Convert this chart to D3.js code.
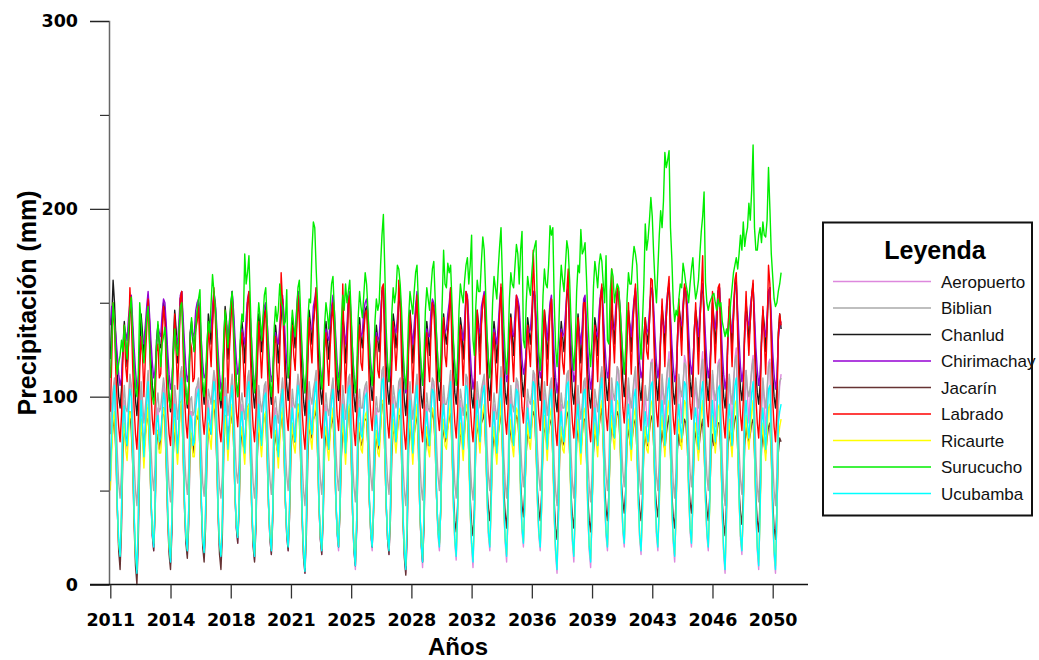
<!DOCTYPE html>
<html>
<head>
<meta charset="utf-8">
<script src="https://cdn.jsdelivr.net/npm/d3@7/dist/d3.min.js"></script>
<style>
  html, body { margin: 0; padding: 0; background: #fff; }
  svg { display: block; }
</style>
</head>
<body>
<svg id="chart" width="1039" height="660"></svg>
<script>
// Precipitación mensual 2011-2050 por estación (mm)

const stationNames = ['Aeropuerto', 'Biblian', 'Chanlud', 'Chirimachay', 'Jacarín', 'Labrado', 'Ricaurte', 'Surucucho', 'Ucubamba'];
const stationColors = ['#dd88dd', '#aaaaaa', '#1a1a1a', '#9400d3', '#663333', '#ff0000', '#ffff00', '#00ee00', '#00ffff'];

const xTickMonths = [0, 43, 86, 129, 172, 215, 258, 301, 344, 387, 430, 473];
const xTickLabels = ['2011', '2014', '2018', '2021', '2025', '2028', '2032', '2036', '2039', '2043', '2046', '2050'];
const yTickMajor = [0, 100, 200, 300];
const yTickMinor = [50, 150, 250];

const aeropuerto = [
  52, 78, 100, 108, 80, 40, 20, 12, 38, 86, 98, 82,
  72, 90, 110, 104, 74, 36, 16, 5, 34, 82, 102, 88,
  66, 84, 98, 112, 84, 46, 26, 18, 42, 88, 94, 80,
  78, 92, 106, 100, 70, 38, 20, 11, 36, 86, 100, 86,
  70, 86, 110, 114, 78, 42, 24, 16, 40, 92, 92, 78,
  76, 96, 104, 108, 82, 44, 22, 15, 38, 80, 98, 90,
  82, 98, 112, 106, 76, 38, 20, 13, 34, 84, 104, 92,
  72, 88, 102, 110, 86, 48, 30, 22, 44, 88, 96, 84,
  70, 92, 108, 112, 80, 40, 22, 13, 36, 82, 100, 88,
  76, 90, 104, 106, 78, 42, 24, 16, 40, 90, 94, 82,
  70, 86, 100, 108, 82, 44, 26, 18, 42, 86, 98, 86,
  78, 94, 110, 104, 74, 36, 16, 6, 34, 84, 102, 90,
  82, 96, 106, 112, 80, 42, 24, 16, 40, 88, 96, 84,
  74, 90, 102, 108, 84, 46, 26, 18, 42, 82, 100, 88,
  72, 88, 108, 110, 78, 38, 18, 8, 36, 90, 98, 84,
  80, 94, 104, 106, 82, 44, 26, 18, 42, 86, 94, 82,
  76, 92, 112, 114, 80, 42, 24, 16, 40, 84, 100, 90,
  78, 90, 106, 108, 76, 36, 16, 6, 34, 88, 102, 88,
  72, 88, 102, 110, 82, 40, 20, 9, 38, 86, 96, 84,
  76, 94, 108, 106, 84, 46, 26, 18, 42, 90, 100, 86,
  80, 92, 104, 112, 80, 42, 22, 13, 38, 84, 98, 88,
  74, 90, 110, 108, 78, 38, 20, 9, 36, 88, 102, 90,
  78, 96, 106, 110, 84, 46, 26, 18, 44, 86, 96, 84,
  72, 88, 102, 114, 80, 40, 22, 12, 38, 90, 100, 86,
  76, 92, 108, 106, 86, 48, 28, 20, 44, 84, 98, 88,
  80, 94, 112, 110, 82, 44, 26, 18, 42, 88, 102, 90,
  74, 90, 104, 108, 76, 36, 16, 6, 36, 86, 96, 84,
  78, 92, 110, 112, 80, 42, 22, 12, 40, 90, 100, 86,
  72, 88, 106, 108, 78, 38, 18, 9, 38, 84, 98, 88,
  76, 94, 108, 114, 84, 44, 26, 18, 42, 88, 104, 92,
  82, 98, 116, 112, 88, 48, 28, 20, 44, 92, 106, 94,
  78, 94, 108, 114, 86, 46, 24, 16, 42, 90, 102, 90,
  84, 100, 118, 120, 88, 48, 26, 18, 44, 94, 108, 96,
  82, 102, 116, 124, 84, 42, 22, 12, 40, 92, 110, 98,
  86, 104, 122, 118, 90, 50, 28, 20, 46, 96, 108, 96,
  80, 100, 116, 124, 88, 46, 26, 18, 44, 92, 112, 100,
  84, 98, 118, 120, 82, 38, 16, 6, 38, 94, 110, 98,
  82, 104, 120, 126, 86, 46, 24, 16, 42, 96, 114, 100,
  86, 102, 116, 122, 84, 40, 18, 8, 40, 92, 108, 96,
  80, 100, 118, 120, 82, 38, 16, 6, 38, 94, 106, 112
];

const biblian = [
  80, 96, 104, 110, 94, 70, 54, 46, 60, 94, 106, 94,
  92, 100, 112, 106, 88, 64, 50, 42, 58, 90, 108, 98,
  86, 94, 104, 114, 98, 74, 58, 50, 64, 96, 102, 92,
  94, 102, 110, 104, 86, 66, 52, 44, 60, 92, 106, 98,
  88, 96, 112, 116, 94, 70, 56, 48, 62, 98, 100, 90,
  92, 104, 106, 110, 96, 72, 54, 47, 60, 88, 104, 100,
  96, 106, 114, 108, 90, 66, 52, 46, 58, 92, 110, 102,
  90, 98, 104, 112, 100, 76, 60, 54, 66, 96, 102, 94,
  88, 100, 110, 114, 94, 70, 54, 46, 60, 90, 106, 98,
  92, 98, 106, 108, 92, 70, 56, 48, 62, 96, 100, 92,
  86, 96, 102, 110, 96, 72, 58, 50, 64, 92, 104, 96,
  94, 102, 112, 106, 88, 64, 50, 42, 58, 90, 108, 100,
  96, 104, 108, 114, 94, 70, 56, 48, 62, 94, 102, 94,
  90, 98, 104, 110, 98, 74, 58, 50, 64, 90, 106, 98,
  88, 96, 110, 112, 92, 66, 52, 44, 60, 96, 104, 94,
  94, 102, 106, 108, 96, 72, 58, 50, 64, 92, 100, 92,
  92, 100, 114, 116, 94, 70, 56, 48, 62, 90, 106, 100,
  94, 98, 108, 110, 90, 64, 50, 42, 58, 94, 108, 98,
  88, 96, 104, 112, 96, 68, 52, 45, 60, 92, 102, 94,
  92, 102, 110, 108, 98, 74, 58, 50, 64, 96, 106, 96,
  96, 100, 106, 114, 94, 70, 54, 46, 60, 90, 104, 98,
  90, 98, 112, 110, 92, 66, 52, 45, 58, 94, 108, 100,
  94, 104, 108, 112, 98, 74, 58, 50, 66, 92, 102, 94,
  88, 96, 104, 116, 94, 68, 54, 46, 60, 96, 106, 96,
  92, 100, 110, 108, 100, 76, 60, 52, 66, 90, 104, 98,
  96, 102, 114, 112, 96, 72, 58, 50, 64, 94, 108, 100,
  90, 98, 106, 110, 90, 64, 50, 42, 58, 92, 102, 94,
  94, 100, 112, 114, 94, 70, 54, 46, 62, 96, 106, 96,
  88, 96, 108, 110, 92, 66, 52, 44, 60, 90, 104, 98,
  92, 102, 110, 116, 98, 72, 58, 50, 64, 94, 110, 102,
  98, 106, 116, 114, 100, 76, 60, 52, 66, 98, 110, 100,
  94, 102, 110, 116, 98, 72, 56, 48, 64, 96, 106, 98,
  98, 106, 118, 118, 100, 76, 58, 50, 66, 98, 112, 102,
  96, 108, 116, 120, 96, 70, 54, 46, 62, 96, 112, 104,
  100, 108, 118, 116, 102, 78, 60, 52, 68, 100, 110, 102,
  94, 104, 114, 120, 100, 74, 58, 50, 66, 96, 114, 104,
  98, 104, 116, 118, 94, 66, 50, 42, 60, 98, 112, 102,
  96, 108, 118, 122, 98, 72, 56, 48, 64, 100, 114, 104,
  100, 106, 114, 120, 96, 68, 52, 44, 62, 96, 110, 100,
  94, 104, 116, 118, 94, 66, 50, 42, 60, 98, 108, 110
];

const chanlud = [
  120, 140, 162, 150, 130, 112, 100, 94, 104, 126, 140, 130,
  116, 128, 144, 148, 134, 114, 98, 90, 102, 124, 144, 134,
  122, 134, 142, 154, 140, 120, 106, 98, 108, 130, 138, 128,
  126, 136, 150, 146, 132, 112, 100, 92, 104, 128, 146, 136,
  118, 130, 152, 156, 136, 116, 102, 94, 106, 134, 140, 130,
  124, 138, 144, 150, 138, 118, 104, 96, 104, 122, 144, 138,
  128, 140, 154, 148, 132, 112, 100, 94, 102, 126, 148, 140,
  120, 132, 146, 156, 142, 122, 108, 100, 110, 130, 140, 132,
  118, 134, 150, 154, 136, 116, 102, 94, 104, 124, 144, 136,
  124, 132, 144, 148, 134, 116, 104, 96, 106, 130, 138, 130,
  118, 130, 142, 152, 138, 118, 106, 98, 108, 128, 142, 134,
  126, 138, 156, 148, 130, 110, 98, 90, 102, 124, 146, 138,
  128, 140, 148, 156, 136, 116, 104, 96, 106, 130, 140, 132,
  120, 132, 144, 150, 140, 120, 106, 98, 108, 126, 144, 136,
  118, 130, 150, 154, 134, 112, 100, 92, 104, 132, 142, 132,
  126, 138, 146, 148, 138, 118, 106, 98, 108, 128, 138, 130,
  124, 136, 156, 158, 136, 116, 104, 96, 106, 124, 144, 138,
  126, 134, 150, 152, 132, 110, 98, 90, 102, 130, 146, 136,
  118, 130, 144, 154, 138, 114, 100, 94, 104, 128, 140, 132,
  122, 138, 150, 148, 140, 120, 106, 98, 108, 132, 144, 134,
  128, 136, 146, 156, 136, 116, 102, 96, 106, 126, 142, 136,
  120, 132, 154, 152, 134, 112, 100, 94, 104, 130, 146, 138,
  124, 140, 150, 154, 140, 120, 106, 98, 110, 128, 140, 132,
  118, 130, 146, 158, 136, 116, 102, 96, 106, 132, 144, 134,
  122, 136, 152, 150, 142, 122, 108, 100, 110, 126, 142, 136,
  128, 138, 156, 154, 138, 118, 106, 98, 108, 130, 146, 138,
  120, 132, 148, 152, 132, 110, 98, 92, 104, 128, 140, 132,
  124, 136, 154, 156, 136, 116, 102, 96, 106, 132, 144, 134,
  118, 130, 150, 152, 134, 112, 100, 94, 104, 126, 142, 136,
  122, 138, 152, 158, 140, 118, 106, 98, 108, 130, 148, 140,
  128, 142, 156, 154, 142, 122, 108, 100, 110, 134, 146, 138,
  124, 138, 150, 156, 140, 118, 104, 98, 108, 132, 142, 134,
  128, 140, 156, 158, 142, 120, 106, 98, 110, 134, 148, 140,
  126, 142, 154, 160, 138, 116, 102, 96, 106, 132, 148, 142,
  130, 144, 158, 156, 144, 124, 108, 100, 112, 136, 146, 140,
  124, 140, 154, 160, 142, 120, 106, 98, 110, 132, 150, 142,
  128, 138, 156, 158, 136, 112, 100, 94, 104, 134, 148, 140,
  126, 142, 158, 162, 140, 118, 104, 98, 108, 136, 150, 142,
  130, 140, 154, 160, 138, 114, 102, 96, 106, 132, 146, 138,
  124, 138, 156, 158, 136, 112, 100, 94, 104, 134, 144, 136
];

const chirimachay = [
  138, 148, 146, 140, 132, 122, 112, 106, 110, 124, 136, 134,
  130, 142, 150, 154, 140, 126, 114, 104, 108, 120, 132, 130,
  128, 138, 148, 156, 144, 130, 118, 110, 114, 126, 138, 134,
  132, 144, 152, 150, 138, 124, 112, 104, 108, 122, 134, 132,
  128, 140, 154, 156, 142, 128, 116, 108, 112, 128, 138, 132,
  134, 146, 150, 152, 144, 130, 118, 110, 112, 120, 134, 136,
  136, 148, 156, 150, 138, 124, 112, 104, 108, 124, 140, 138,
  130, 140, 148, 156, 146, 132, 120, 112, 116, 128, 136, 132,
  128, 142, 152, 156, 142, 128, 114, 106, 110, 122, 138, 134,
  132, 140, 148, 150, 140, 128, 116, 108, 112, 128, 134, 130,
  128, 138, 146, 154, 144, 130, 118, 110, 114, 124, 136, 132,
  134, 146, 156, 150, 136, 122, 110, 102, 108, 122, 140, 136,
  136, 148, 152, 158, 142, 128, 116, 108, 112, 126, 136, 132,
  130, 140, 148, 154, 146, 132, 118, 110, 114, 122, 138, 134,
  128, 138, 152, 156, 140, 124, 112, 104, 110, 128, 138, 132,
  134, 146, 150, 152, 144, 130, 118, 110, 114, 126, 134, 130,
  132, 144, 156, 158, 142, 128, 116, 108, 112, 122, 138, 136,
  134, 142, 152, 154, 138, 122, 110, 102, 108, 126, 140, 134,
  128, 138, 148, 156, 144, 126, 114, 106, 110, 124, 136, 132,
  132, 146, 152, 150, 146, 132, 118, 110, 114, 128, 138, 134,
  136, 144, 150, 158, 142, 128, 116, 108, 112, 122, 136, 134,
  130, 140, 156, 154, 140, 124, 112, 104, 110, 128, 140, 136,
  134, 148, 152, 156, 146, 132, 120, 112, 116, 126, 136, 132,
  128, 138, 150, 158, 142, 128, 116, 108, 112, 128, 138, 134,
  132, 144, 154, 152, 148, 134, 120, 112, 116, 124, 136, 134,
  136, 146, 156, 156, 144, 130, 118, 110, 114, 128, 140, 136,
  130, 140, 150, 154, 138, 122, 110, 102, 108, 126, 136, 132,
  134, 144, 156, 158, 142, 128, 116, 108, 112, 128, 138, 134,
  128, 138, 152, 154, 140, 124, 112, 104, 110, 124, 136, 134,
  132, 146, 154, 158, 146, 130, 118, 110, 114, 128, 140, 136,
  136, 148, 156, 156, 148, 134, 120, 112, 116, 130, 142, 138,
  132, 144, 152, 158, 146, 130, 118, 110, 114, 128, 138, 134,
  136, 146, 156, 158, 148, 132, 118, 110, 116, 130, 142, 138,
  134, 148, 156, 160, 144, 128, 116, 108, 112, 128, 142, 140,
  138, 150, 158, 156, 150, 134, 120, 112, 118, 132, 142, 138,
  132, 146, 156, 160, 148, 132, 118, 110, 116, 128, 144, 140,
  136, 146, 156, 158, 142, 124, 112, 104, 110, 130, 142, 138,
  134, 148, 158, 160, 146, 130, 116, 108, 114, 132, 144, 140,
  138, 148, 154, 158, 144, 126, 114, 106, 112, 128, 140, 136,
  132, 144, 156, 158, 142, 124, 112, 104, 110, 130, 138, 140
];

const jacarin = [
  60, 76, 84, 88, 70, 40, 18, 8, 30, 70, 84, 78,
  74, 86, 92, 82, 64, 32, 10, 0, 24, 66, 88, 80,
  70, 80, 86, 94, 74, 46, 26, 18, 38, 74, 82, 72,
  78, 88, 94, 86, 62, 34, 16, 8, 28, 70, 86, 78,
  72, 82, 96, 98, 70, 40, 22, 14, 32, 76, 80, 70,
  76, 90, 88, 92, 72, 42, 20, 12, 30, 66, 84, 82,
  80, 92, 98, 88, 66, 36, 16, 8, 26, 70, 90, 84,
  72, 84, 86, 94, 76, 48, 30, 22, 40, 74, 82, 74,
  70, 86, 94, 96, 70, 40, 20, 12, 30, 68, 86, 80,
  76, 84, 90, 90, 68, 42, 24, 16, 34, 74, 80, 72,
  70, 80, 86, 92, 72, 44, 26, 18, 36, 70, 84, 76,
  76, 88, 96, 88, 64, 34, 14, 6, 26, 66, 86, 80,
  78, 88, 90, 94, 70, 42, 24, 16, 34, 72, 82, 74,
  72, 82, 86, 90, 72, 46, 28, 20, 38, 68, 84, 78,
  70, 80, 92, 94, 68, 38, 18, 10, 30, 74, 82, 74,
  76, 86, 88, 88, 72, 44, 28, 20, 38, 70, 80, 72,
  74, 84, 96, 96, 70, 42, 24, 16, 34, 68, 84, 80,
  76, 82, 90, 90, 66, 34, 14, 5, 26, 72, 86, 78,
  70, 80, 86, 92, 72, 40, 22, 12, 30, 70, 82, 74,
  74, 86, 92, 88, 74, 46, 30, 22, 40, 76, 84, 76,
  78, 84, 88, 94, 72, 48, 34, 28, 42, 70, 82, 78,
  72, 82, 92, 90, 70, 46, 32, 26, 40, 74, 86, 80,
  76, 86, 88, 92, 74, 52, 40, 34, 48, 72, 80, 74,
  70, 80, 86, 94, 72, 50, 38, 30, 44, 76, 84, 76,
  74, 84, 90, 88, 76, 54, 42, 36, 50, 70, 82, 78,
  78, 86, 92, 90, 72, 50, 40, 34, 48, 74, 86, 80,
  72, 82, 86, 88, 68, 44, 30, 24, 40, 72, 80, 74,
  76, 84, 90, 92, 70, 48, 36, 30, 44, 76, 84, 76,
  70, 80, 88, 88, 68, 46, 34, 28, 42, 70, 82, 78,
  74, 84, 90, 94, 74, 52, 40, 34, 48, 74, 86, 80,
  78, 86, 92, 90, 76, 54, 44, 38, 50, 76, 84, 76,
  72, 80, 86, 88, 72, 50, 40, 34, 46, 72, 80, 74,
  74, 82, 88, 90, 74, 52, 42, 36, 48, 74, 82, 76,
  72, 80, 86, 90, 70, 48, 36, 30, 44, 72, 80, 74,
  76, 82, 88, 86, 74, 54, 44, 38, 50, 74, 82, 76,
  70, 78, 84, 88, 72, 50, 40, 34, 46, 70, 80, 74,
  74, 80, 86, 86, 68, 44, 32, 26, 42, 72, 82, 76,
  72, 82, 88, 90, 72, 50, 38, 32, 46, 74, 84, 78,
  76, 80, 86, 88, 70, 46, 34, 28, 44, 72, 80, 74,
  70, 78, 84, 86, 68, 44, 30, 24, 40, 70, 78, 76
];

const labrado = [
  92, 118, 150, 138, 112, 96, 84, 76, 90, 120, 138, 116,
  108, 128, 158, 142, 116, 94, 80, 72, 88, 114, 132, 122,
  100, 120, 136, 152, 128, 104, 88, 80, 96, 124, 128, 110,
  112, 132, 148, 140, 110, 92, 80, 74, 90, 120, 144, 124,
  104, 122, 152, 156, 124, 100, 86, 78, 92, 130, 126, 108,
  110, 136, 140, 148, 126, 102, 88, 80, 90, 112, 138, 128,
  116, 138, 158, 142, 118, 96, 82, 76, 88, 118, 146, 130,
  102, 124, 138, 154, 132, 108, 92, 84, 98, 126, 134, 118,
  100, 128, 150, 156, 124, 98, 84, 76, 90, 116, 140, 126,
  110, 126, 142, 146, 120, 100, 86, 78, 94, 128, 132, 114,
  102, 122, 166, 150, 128, 104, 90, 82, 96, 122, 138, 122,
  114, 134, 154, 140, 114, 92, 80, 72, 88, 116, 142, 128,
  118, 138, 146, 158, 124, 100, 86, 78, 92, 126, 134, 118,
  106, 126, 140, 150, 130, 106, 90, 82, 96, 118, 160, 126,
  102, 122, 150, 154, 122, 96, 82, 74, 90, 128, 138, 118,
  114, 134, 144, 146, 128, 104, 90, 82, 96, 124, 132, 114,
  110, 130, 158, 160, 124, 100, 86, 78, 92, 116, 140, 128,
  114, 128, 162, 150, 118, 92, 80, 72, 88, 126, 144, 126,
  102, 122, 140, 154, 128, 98, 84, 76, 90, 122, 134, 118,
  108, 134, 150, 146, 130, 106, 90, 82, 96, 130, 142, 122,
  116, 132, 144, 158, 124, 100, 86, 78, 92, 118, 138, 126,
  106, 126, 156, 152, 120, 96, 84, 76, 90, 126, 146, 130,
  112, 138, 150, 154, 132, 108, 92, 84, 100, 122, 134, 118,
  102, 122, 144, 160, 126, 102, 88, 80, 94, 130, 142, 122,
  108, 132, 154, 148, 134, 110, 94, 86, 100, 118, 138, 126,
  116, 136, 178, 156, 128, 104, 90, 82, 96, 126, 146, 130,
  106, 126, 146, 152, 118, 94, 82, 74, 90, 122, 134, 118,
  112, 132, 156, 168, 124, 100, 86, 78, 92, 130, 142, 122,
  102, 122, 150, 150, 120, 96, 84, 76, 90, 118, 138, 126,
  108, 134, 152, 160, 130, 104, 90, 82, 96, 126, 168, 132,
  118, 140, 158, 156, 134, 110, 94, 86, 100, 132, 150, 130,
  112, 134, 150, 160, 132, 106, 90, 82, 98, 128, 142, 124,
  120, 140, 163, 162, 134, 108, 92, 84, 100, 132, 152, 134,
  116, 142, 156, 164, 128, 102, 88, 80, 94, 130, 152, 136,
  122, 146, 160, 156, 136, 112, 96, 88, 102, 134, 150, 132,
  112, 138, 156, 175, 134, 108, 92, 84, 100, 128, 156, 136,
  118, 136, 158, 160, 126, 98, 86, 78, 94, 132, 152, 134,
  116, 142, 162, 166, 132, 106, 90, 82, 98, 136, 156, 136,
  122, 140, 154, 162, 128, 100, 86, 78, 94, 128, 148, 130,
  112, 136, 170, 160, 126, 98, 84, 76, 92, 132, 144, 138
];

const ricaurte = [
  50, 70, 88, 92, 72, 40, 22, 16, 38, 78, 86, 72,
  66, 80, 92, 88, 66, 36, 16, 8, 34, 74, 88, 76,
  62, 76, 86, 96, 74, 46, 28, 22, 40, 80, 82, 70,
  70, 82, 94, 90, 64, 38, 20, 14, 36, 76, 88, 74,
  64, 76, 96, 98, 70, 42, 26, 19, 38, 82, 80, 68,
  68, 84, 90, 94, 72, 44, 24, 18, 36, 72, 86, 78,
  72, 86, 98, 92, 68, 38, 22, 16, 34, 76, 90, 80,
  66, 78, 88, 96, 76, 48, 32, 26, 42, 78, 84, 72,
  64, 82, 94, 96, 70, 40, 24, 16, 36, 74, 88, 76,
  68, 80, 90, 92, 70, 42, 26, 19, 38, 80, 82, 72,
  62, 76, 88, 94, 72, 44, 28, 21, 40, 76, 86, 74,
  70, 84, 96, 90, 66, 36, 18, 9, 34, 74, 90, 78,
  72, 86, 92, 98, 70, 42, 26, 19, 38, 78, 84, 72,
  66, 80, 88, 94, 74, 46, 28, 21, 40, 74, 88, 76,
  64, 78, 94, 96, 70, 38, 20, 12, 36, 80, 86, 72,
  70, 84, 90, 92, 72, 44, 28, 21, 40, 76, 82, 70,
  68, 82, 98, 98, 70, 42, 26, 19, 38, 74, 88, 78,
  70, 80, 92, 94, 68, 36, 18, 10, 34, 78, 90, 76,
  64, 78, 88, 96, 72, 40, 22, 14, 36, 76, 84, 72,
  68, 84, 94, 92, 74, 46, 28, 21, 40, 80, 88, 74,
  72, 82, 90, 98, 70, 42, 24, 16, 36, 74, 86, 76,
  66, 80, 96, 94, 68, 38, 22, 14, 34, 78, 90, 78,
  70, 86, 92, 96, 74, 46, 28, 21, 42, 76, 84, 72,
  64, 78, 88, 98, 70, 40, 24, 16, 36, 80, 88, 74,
  68, 82, 94, 92, 76, 48, 30, 23, 42, 74, 86, 76,
  72, 84, 98, 96, 72, 44, 28, 21, 40, 78, 90, 78,
  66, 80, 90, 94, 66, 36, 18, 10, 34, 76, 84, 72,
  70, 82, 96, 98, 70, 42, 24, 16, 38, 80, 88, 74,
  64, 78, 92, 94, 68, 38, 20, 14, 36, 74, 86, 76,
  68, 84, 94, 98, 74, 44, 28, 21, 40, 78, 90, 78,
  72, 86, 98, 96, 76, 48, 30, 23, 42, 80, 88, 76,
  66, 80, 90, 94, 72, 44, 26, 19, 38, 76, 84, 72,
  70, 82, 96, 98, 74, 46, 28, 21, 40, 80, 90, 78,
  68, 84, 94, 98, 70, 40, 24, 16, 36, 78, 88, 76,
  72, 86, 98, 96, 76, 48, 30, 23, 42, 80, 86, 74,
  66, 82, 92, 98, 74, 44, 28, 21, 40, 76, 90, 78,
  70, 80, 94, 96, 68, 36, 18, 10, 34, 78, 88, 76,
  68, 84, 96, 98, 72, 44, 26, 19, 38, 80, 90, 78,
  72, 82, 92, 98, 70, 38, 20, 12, 36, 76, 86, 74,
  66, 80, 94, 96, 68, 36, 18, 10, 34, 78, 84, 88
];

const surucucho = [
  110, 128, 150, 140, 120, 112, 118, 122, 130, 124, 138, 128,
  120, 136, 146, 153, 132, 116, 104, 100, 112, 150, 140, 126,
  118, 130, 142, 148, 130, 112, 100, 96, 108, 126, 140, 128,
  116, 128, 132, 137, 124, 108, 98, 94, 104, 124, 136, 126,
  122, 134, 148, 150, 132, 114, 102, 96, 106, 130, 142, 132,
  124, 136, 146, 152, 157, 128, 108, 100, 110, 128, 140, 134,
  150, 165, 156, 148, 132, 116, 104, 98, 108, 132, 146, 138,
  126, 138, 150, 156, 138, 120, 106, 100, 112, 134, 144, 140,
  176, 160, 166, 175, 150, 126, 110, 102, 114, 138, 150, 142,
  130, 142, 154, 158, 140, 122, 108, 100, 112, 136, 148, 140,
  146, 160, 150, 148, 138, 140, 157, 110, 116, 134, 146, 138,
  132, 144, 158, 162, 142, 124, 110, 102, 114, 140, 152, 150,
  178, 193, 190, 168, 150, 130, 114, 104, 116, 138, 150, 144,
  136, 148, 160, 164, 146, 126, 112, 104, 116, 140, 154, 146,
  160, 150, 156, 162, 144, 124, 110, 102, 114, 142, 156, 148,
  142, 154, 166, 160, 146, 128, 114, 106, 118, 140, 152, 146,
  150, 170, 186, 197, 168, 136, 118, 108, 120, 144, 158, 150,
  156, 170, 168, 160, 146, 126, 112, 104, 118, 142, 156, 150,
  144, 156, 166, 170, 150, 130, 116, 106, 120, 146, 158, 152,
  146, 158, 168, 172, 152, 132, 118, 108, 122, 150, 178, 160,
  158, 171, 166, 170, 150, 130, 116, 106, 120, 146, 160, 154,
  150, 162, 170, 174, 160, 170, 186, 130, 122, 148, 162, 156,
  156, 172, 185, 178, 156, 134, 120, 110, 124, 150, 164, 158,
  152, 168, 180, 190, 162, 138, 122, 112, 126, 152, 166, 160,
  158, 170, 181, 176, 160, 178, 188, 130, 126, 150, 164, 158,
  154, 166, 176, 180, 183, 146, 124, 114, 128, 154, 168, 160,
  158, 170, 191, 186, 190, 150, 126, 116, 130, 156, 170, 162,
  156, 170, 183, 178, 162, 140, 124, 114, 128, 156, 170, 166,
  189, 176, 178, 182, 164, 142, 126, 116, 130, 158, 172, 166,
  158, 170, 176, 172, 160, 150, 175, 130, 128, 156, 168, 164,
  150, 156, 160, 158, 148, 134, 122, 112, 126, 152, 166, 160,
  160, 172, 180, 176, 170, 150, 132, 120, 140, 160, 192, 178,
  184, 194, 206, 196, 176, 160, 150, 168, 186, 199, 190, 204,
  230, 222, 226, 231, 190, 173, 150, 140, 146, 143, 152, 160,
  158, 171, 166, 160, 156, 150, 160, 168, 174, 160, 152, 156,
  162, 176, 188, 196, 209, 161, 150, 146, 150, 152, 154, 155,
  150, 146, 152, 148, 150, 140, 136, 132, 136, 132, 140, 150,
  158, 166, 170, 174, 168, 176, 186, 178, 193, 180, 186, 190,
  203, 194, 210, 234, 190, 178, 178, 186, 190, 182, 193, 186,
  185, 194, 222, 200, 176, 164, 152, 148, 150, 156, 160, 166
];

const ucubamba = [
  55, 82, 98, 106, 80, 42, 24, 15, 40, 88, 95, 78,
  74, 92, 104, 100, 72, 38, 18, 6, 35, 80, 98, 84,
  68, 85, 96, 108, 82, 48, 28, 20, 42, 86, 90, 76,
  78, 90, 102, 98, 70, 40, 22, 12, 36, 84, 96, 82,
  70, 84, 106, 110, 76, 44, 26, 18, 40, 90, 88, 74,
  76, 94, 100, 104, 80, 46, 24, 17, 38, 78, 94, 86,
  80, 96, 108, 102, 74, 40, 22, 15, 34, 82, 100, 88,
  72, 86, 98, 106, 84, 50, 32, 25, 44, 86, 92, 80,
  70, 90, 104, 108, 78, 42, 24, 15, 36, 80, 96, 84,
  74, 88, 100, 102, 76, 44, 26, 18, 40, 88, 90, 78,
  68, 84, 96, 104, 80, 46, 28, 20, 42, 84, 94, 82,
  76, 92, 106, 100, 72, 38, 18, 7, 34, 82, 98, 86,
  80, 94, 102, 108, 78, 44, 26, 18, 40, 86, 92, 80,
  72, 88, 98, 104, 82, 48, 28, 20, 42, 80, 96, 84,
  70, 86, 104, 106, 76, 40, 20, 10, 36, 88, 94, 80,
  78, 92, 100, 102, 80, 46, 28, 20, 42, 84, 90, 78,
  74, 90, 108, 110, 78, 44, 26, 18, 40, 82, 96, 86,
  76, 88, 102, 104, 74, 38, 18, 8, 34, 86, 98, 84,
  70, 86, 98, 106, 80, 42, 22, 12, 38, 84, 92, 80,
  74, 92, 104, 102, 82, 48, 28, 20, 42, 88, 96, 82,
  78, 90, 100, 108, 78, 44, 24, 15, 38, 82, 94, 84,
  72, 88, 106, 104, 76, 40, 22, 12, 36, 86, 98, 86,
  76, 94, 102, 106, 82, 48, 28, 20, 44, 84, 92, 80,
  70, 86, 98, 110, 78, 42, 24, 15, 38, 88, 96, 82,
  74, 90, 104, 102, 84, 50, 30, 22, 44, 82, 94, 84,
  78, 92, 108, 106, 80, 46, 28, 20, 42, 86, 98, 86,
  72, 88, 100, 104, 74, 38, 18, 8, 36, 84, 92, 80,
  76, 90, 106, 108, 78, 44, 24, 15, 40, 88, 96, 82,
  70, 86, 102, 104, 76, 40, 20, 12, 38, 82, 94, 84,
  74, 92, 104, 110, 82, 46, 28, 20, 42, 86, 98, 86,
  78, 94, 108, 106, 84, 50, 30, 22, 44, 88, 96, 84,
  72, 88, 100, 104, 80, 46, 26, 18, 40, 84, 92, 80,
  76, 90, 106, 108, 82, 48, 28, 20, 42, 88, 98, 86,
  74, 92, 104, 110, 78, 42, 24, 15, 38, 86, 96, 84,
  78, 94, 108, 106, 84, 50, 30, 22, 44, 88, 94, 82,
  72, 90, 102, 108, 82, 46, 28, 20, 42, 84, 98, 86,
  76, 88, 104, 106, 76, 38, 18, 8, 36, 86, 96, 84,
  74, 92, 106, 110, 80, 46, 26, 18, 40, 88, 98, 86,
  78, 90, 102, 108, 78, 40, 20, 10, 38, 84, 94, 82,
  72, 88, 104, 106, 76, 38, 18, 8, 36, 86, 92, 96
];

const seriesValues = [aeropuerto, biblian, chanlud, chirimachay, jacarin, labrado, ricaurte, surucucho, ucubamba];

function renderChart() {
  const svg = d3.select('#chart');
  svg.html('');

  const x = d3.scaleLinear()
    .domain([0, 473])
    .range([110.3, 772.7]);

  const y = d3.scaleLinear()
    .domain([0, 300])
    .range([584.5, 21]);

  // lineas de datos
  const line = d3.line()
    .x((d, i) => x(i))
    .y(d => y(d));

  const plot = svg.append('g').attr('class', 'plot');
  seriesValues.forEach((values, k) => {
    plot.append('path')
      .datum(values)
      .attr('fill', 'none')
      .attr('stroke', stationColors[k])
      .attr('stroke-width', 1.4)
      .attr('stroke-linejoin', 'round')
      .attr('d', line);
  });

  // eje Y
  const yAxis = svg.append('g')
    .attr('class', 'y-axis')
    .attr('transform', 'translate(109,0)')
    .call(d3.axisLeft(y).tickValues(yTickMajor).tickSize(19).tickPadding(12).tickFormat(d3.format('d')));
  yAxis.select('.domain').attr('stroke', '#666').attr('stroke-width', 1.5);
  yAxis.selectAll('.tick line').attr('stroke', '#222').attr('stroke-width', 1.2);
  yAxis.selectAll('.tick text')
    .attr('font-family', 'DejaVu Sans, sans-serif')
    .attr('font-weight', 'bold')
    .attr('font-size', '17.5px')
    .attr('fill', '#000');

  svg.append('g')
    .attr('class', 'y-minor')
    .attr('transform', 'translate(109,0)')
    .call(d3.axisLeft(y).tickValues(yTickMinor).tickSize(9).tickFormat(''))
    .call(g => g.select('.domain').remove())
    .selectAll('.tick line').attr('stroke', '#333').attr('stroke-width', 1.2);

  // eje X
  svg.append('line')
    .attr('x1', 90).attr('x2', 808)
    .attr('y1', 584.5).attr('y2', 584.5)
    .attr('stroke', '#111')
    .attr('stroke-width', 1.5);

  const xAxis = svg.append('g')
    .attr('class', 'x-axis')
    .attr('transform', 'translate(0,584.5)')
    .call(d3.axisBottom(x).tickValues(xTickMonths).tickSize(14).tickPadding(15)
      .tickFormat((d, i) => xTickLabels[i]));
  xAxis.select('.domain').remove();
  xAxis.selectAll('.tick line').attr('stroke', '#333').attr('stroke-width', 1.3);
  xAxis.selectAll('.tick text')
    .attr('font-family', 'DejaVu Sans, sans-serif')
    .attr('font-weight', 'bold')
    .attr('font-size', '17.5px')
    .attr('fill', '#000');

  // titulos de ejes
  svg.append('text')
    .attr('transform', 'translate(36,303) rotate(-90)')
    .attr('text-anchor', 'middle')
    .attr('font-family', 'Liberation Sans, Arial, sans-serif')
    .attr('font-weight', 'bold')
    .attr('font-size', '25px')
    .text('Precipitación (mm)');

  svg.append('text')
    .attr('x', 458)
    .attr('y', 655)
    .attr('text-anchor', 'middle')
    .attr('font-family', 'Liberation Sans, Arial, sans-serif')
    .attr('font-weight', 'bold')
    .attr('font-size', '24px')
    .text('Años');

  // leyenda
  const legend = svg.append('g').attr('class', 'legend');
  legend.append('rect')
    .attr('x', 823).attr('y', 222.5)
    .attr('width', 209).attr('height', 293)
    .attr('fill', '#fff')
    .attr('stroke', '#111')
    .attr('stroke-width', 2);

  legend.append('text')
    .attr('x', 935)
    .attr('y', 259)
    .attr('text-anchor', 'middle')
    .attr('font-family', 'Liberation Sans, Arial, sans-serif')
    .attr('font-weight', 'bold')
    .attr('font-size', '25px')
    .text('Leyenda');

  const rows = legend.selectAll('.legend-row')
    .data(stationNames)
    .enter()
    .append('g')
    .attr('class', 'legend-row')
    .attr('transform', (d, i) => `translate(0,${281.5 + i * 26.5})`);

  rows.append('line')
    .attr('x1', 833).attr('x2', 931)
    .attr('y1', 0).attr('y2', 0)
    .attr('stroke', (d, i) => stationColors[i])
    .attr('stroke-width', 1.5);

  rows.append('text')
    .attr('x', 941)
    .attr('y', 6)
    .attr('font-family', 'Liberation Sans, Arial, sans-serif')
    .attr('font-size', '17px')
    .attr('fill', '#111')
    .text(d => d);
}

renderChart();
</script>
</body>
</html>
